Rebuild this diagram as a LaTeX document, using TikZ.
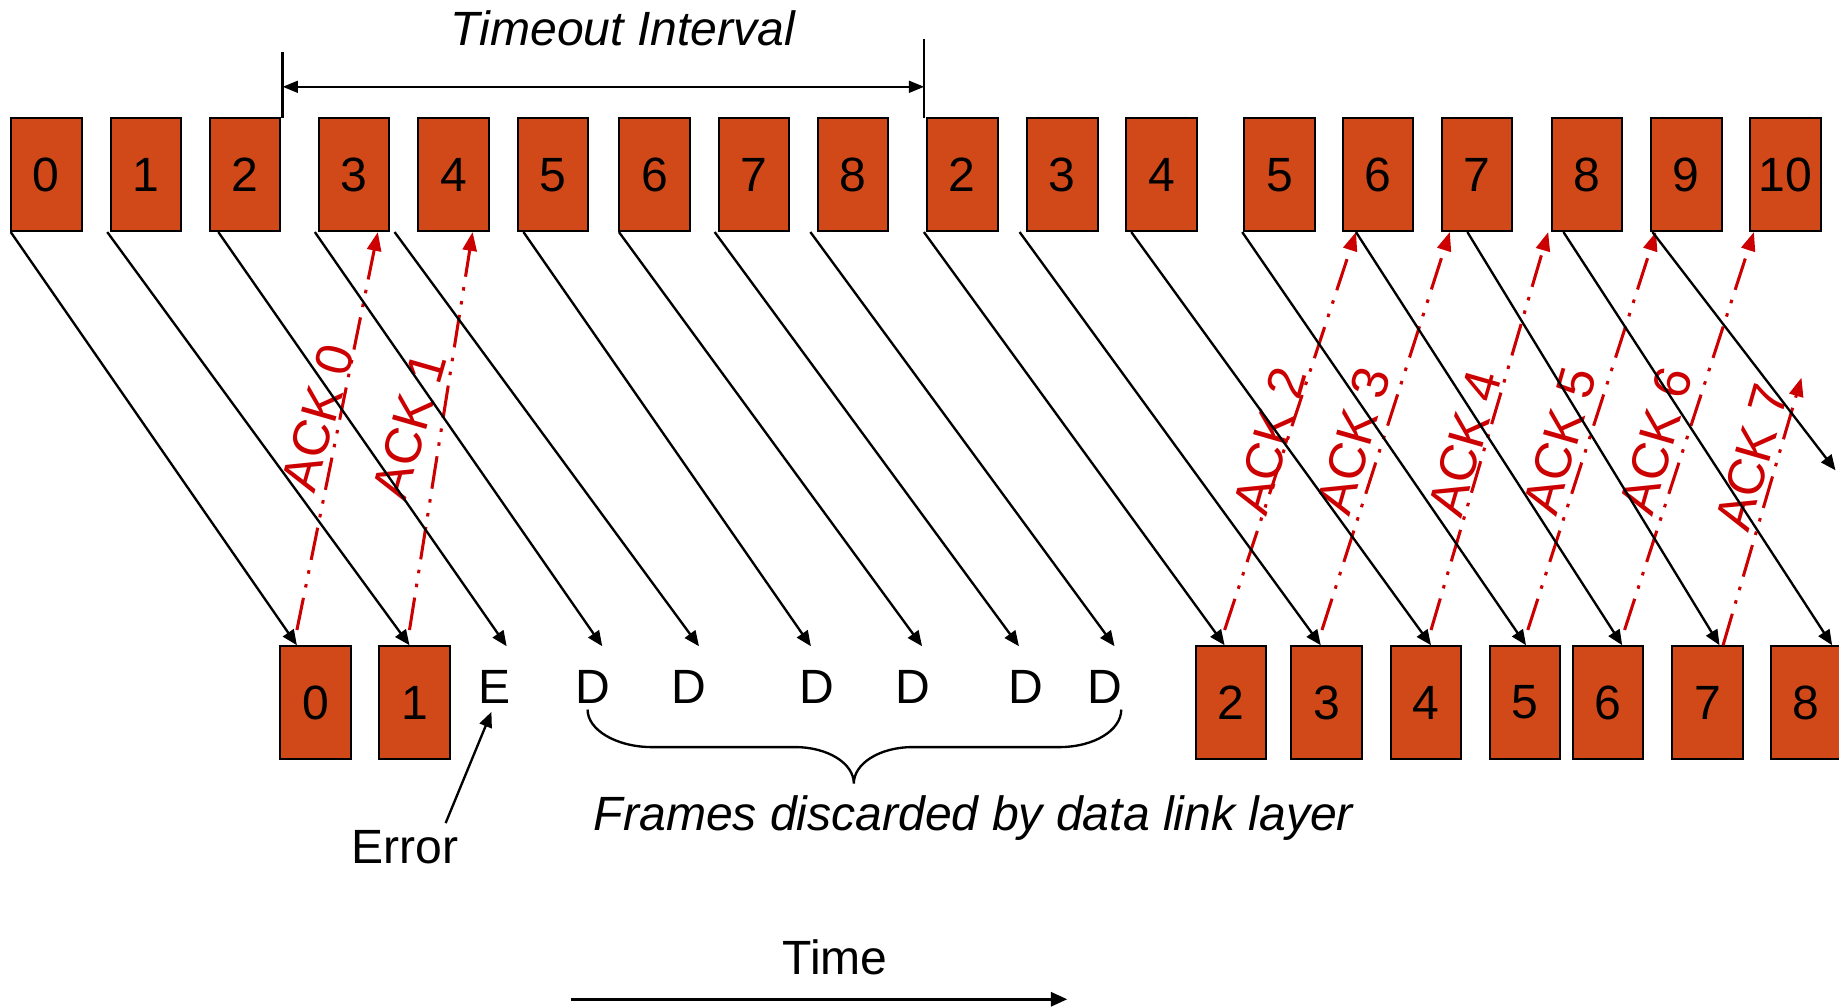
\documentclass[tikz,border=0pt]{standalone}
\usepackage{fontspec}
\setmainfont{Liberation Sans}
\usetikzlibrary{arrows.meta,calc}
\definecolor{framefill}{RGB}{209,73,25}
\definecolor{ackred}{RGB}{204,0,0}
\newcommand\txtsize{\fontsize{20.5}{24}\selectfont}
\newcommand\acksize{\fontsize{22}{26}\selectfont}
\begin{document}
\begin{tikzpicture}[x=0.5pt,y=-0.5pt,
  frame/.style={draw=black, line width=0.85pt, fill=framefill,
    minimum width=30pt, minimum height=48pt, inner sep=0pt, font=\txtsize},
  lbl/.style={inner sep=0pt, anchor=base, font=\txtsize},
  acklbl/.style={inner sep=0pt, font=\acksize, text=ackred, rotate=74},
  frm/.style={line width=1pt, -{Triangle[length=6.5pt,width=5.5pt]}},
  ack/.style={draw=ackred, line width=1.3pt,
    dash pattern=on 14pt off 4.5pt on 1.5pt off 4.5pt on 1.5pt off 4.5pt,
    -{Triangle[length=8pt,width=6pt]}},
  dim/.style={line width=1pt, {Triangle[length=6.5pt,width=5pt]}-{Triangle[length=6.5pt,width=5pt]}},
  tick/.style={line width=1pt}]
\useasboundingbox (0,0) rectangle (1568,858);

% sender: frames as transmitted
\node[frame] (t0) at (39.5,149) {0};
\node[frame] (t1) at (124.3,149) {1};
\node[frame] (t2) at (209,149) {2};
\node[frame] (t3) at (302,149) {3};
\node[frame] (t4) at (386.8,149) {4};
\node[frame] (t5) at (471.6,149) {5};
\node[frame] (t6) at (558,149) {6};
\node[frame] (t7) at (643,149) {7};
\node[frame] (t8) at (727.4,149) {8};
\node[frame] (u2) at (820.5,149) {2};
\node[frame] (u3) at (905.8,149) {3};
\node[frame] (u4) at (990.3,149) {4};
\node[frame] (u5) at (1090.9,149) {5};
\node[frame] (u6) at (1175,149) {6};
\node[frame] (u7) at (1259.5,149) {7};
\node[frame] (u8) at (1352.9,149) {8};
\node[frame] (u9) at (1437.8,149) {9};
\node[frame] (u10) at (1522.3,149) {10};

% receiver: frames delivered
\node[frame] (r0) at (269,599) {0};
\node[frame] (r1) at (353.5,599) {1};
\node[frame] (r2) at (1049.5,599) {2};
\node[frame] (r3) at (1131,599) {3};
\node[frame] (r4) at (1216,599) {4};
\node[frame] (r5) at (1300.5,599) {5};
\node[frame] (r6) at (1371,599) {6};
\node[frame] (r7) at (1456,599) {7};
\node[frame] (r8) at (1540,599) {8};

% damaged and discarded frames
\node[lbl] (E) at (421.7,599.5) {E};
\node[lbl] (D1) at (505.7,599.5) {D};
\node[lbl] (D2) at (587.5,599.5) {D};
\node[lbl] (D3) at (696.2,599.5) {D};
\node[lbl] (D4) at (778.5,599.5) {D};
\node[lbl] (D5) at (874.6,599.5) {D};
\node[lbl] (D6) at (942,599.5) {D};

% acknowledgements
\draw[ack] ($(r0.north west)+(15,-13)$) -- ($(t3.south west)+(51,0)$);
\draw[ack] ($(r1.north west)+(26.5,-13)$) -- ($(t4.south west)+(47,0)$);
\draw[ack] ($(r2.north west)+(25.5,-13)$) -- ($(u6.south west)+(12,0)$);
\draw[ack] ($(r3.north west)+(27,-13)$) -- ($(u7.south west)+(7.5,0)$);
\draw[ack] ($(r4.north west)+(35,-13)$) -- ($(u8.south west)+(-2,0)$);
\draw[ack] ($(r5.north west)+(33,-13)$) -- ($(u9.south west)+(5,0)$);
\draw[ack] ($(r6.north west)+(45,-13)$) -- ($(u10.south west)+(4,0)$);
\coordinate (ack7end) at (1536,322);
\draw[ack] ($(r7.north west)+(44,0)$) -- (ack7end);

\node[acklbl] (a0) at (271,356) {ACK 0};
\node[acklbl] (a1) at (349,363) {ACK 1};
\node[acklbl] (a2) at (1083,376) {ACK 2};
\node[acklbl] (a3) at (1154,376) {ACK 3};
\node[acklbl] (a4) at (1249,378) {ACK 4};
\node[acklbl] (a5) at (1330,376) {ACK 5};
\node[acklbl] (a6) at (1412,376) {ACK 6};
\node[acklbl] (a7) at (1494,390) {ACK 7};

% frame transmissions
\draw[frm] ($(t0.south west)+(0.5,0)$) -- ($(r0.north west)+(15,0)$);
\draw[frm] ($(t1.south west)+(-2,0)$) -- ($(r1.north west)+(26.5,0)$);
\draw[frm] ($(t2.south west)+(8,0)$) -- ($(E.base)+(10.3,-48.5)$);
\draw[frm] ($(t3.south west)+(-2.7,0)$) -- ($(D1.base)+(7.8,-48.5)$);
\draw[frm] ($(t4.south west)+(-19.5,0)$) -- ($(D2.base)+(8.5,-48.5)$);
\draw[frm] ($(t5.south west)+(5.6,0)$) -- ($(D3.base)+(-4.8,-48.5)$);
\draw[frm] ($(t6.south west)+(0.6,0)$) -- ($(D4.base)+(7.7,-48.5)$);
\draw[frm] ($(t7.south west)+(-2.8,0)$) -- ($(D5.base)+(-5.8,-48.5)$);
\draw[frm] ($(t8.south west)+(-5.6,0)$) -- ($(D6.base)+(8.3,-48.5)$);
\draw[frm] ($(u2.south west)+(-1.9,0)$) -- ($(r2.north west)+(25.5,0)$);
\draw[frm] ($(u3.south west)+(-5.6,0)$) -- ($(r3.north west)+(26,0)$);
\draw[frm] ($(u4.south west)+(5.1,0)$) -- ($(r4.north west)+(35,0)$);
\draw[frm] ($(u5.south west)+(-0.9,0)$) -- ($(r5.north west)+(31.5,0)$);
\draw[frm] ($(u6.south west)+(12,0)$) -- ($(r6.north west)+(43,0)$);
\draw[frm] ($(u7.south west)+(22.5,0)$) -- ($(r7.north west)+(41,0)$);
\draw[frm] ($(u8.south west)+(11,0)$) -- ($(r8.north west)+(53,0)$);
\coordinate (u9end) at (1565,401);
\draw[frm] ($(u9.south west)+(2,0)$) -- (u9end);

% timeout interval
\draw[tick] (241,44) -- (241,101);
\draw[tick] (788,33) -- (788,101);
\coordinate (tiL) at (241,74);
\coordinate (tiR) at (788,74);
\draw[dim] (tiL) -- (tiR);
\node[lbl, font=\txtsize\itshape] (tout) at (531,39) {Timeout Interval};

% brace over the discarded frames
\draw[line width=1pt] (501,605) .. controls (501,622.6) and (526,637) .. (556,637)
  -- (678,637) .. controls (706,637) and (728,651) .. (728,668)
  .. controls (728,651) and (750,637) .. (778,637)
  -- (903,637) .. controls (933,637) and (956,622.6) .. (956,605);
\node[lbl, font=\txtsize\itshape] (disc) at (830,708) {Frames discarded by data link layer};

% error marker
\node[lbl] (err) at (345,736) {Error};
\draw[frm] ($(err.north east)+(-11,-5.6)$) -- ($(E.base)+(-2.7,7.5)$);

% time axis
\node[lbl] (time) at (712,831) {Time};
\coordinate (timeA) at (487,852);
\coordinate (timeB) at (910,852);
\draw[line width=1.2pt, -{Triangle[length=7pt,width=6pt]}] (timeA) -- (timeB);
\end{tikzpicture}
\end{document}
